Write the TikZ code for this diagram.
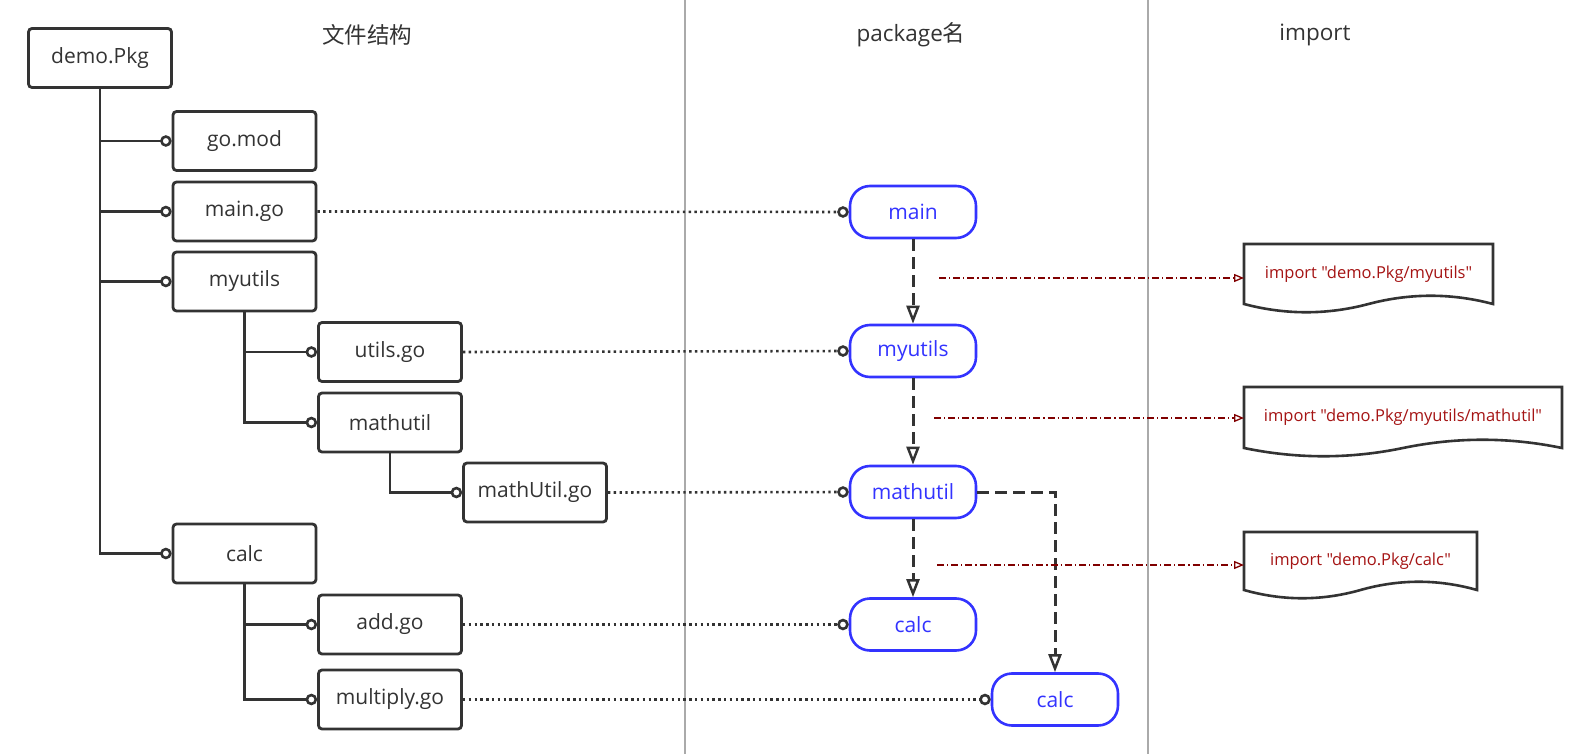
\documentclass[tikz,border=0pt]{standalone}
\usepackage{fontspec}
\setmainfont{Open Sans}
\newfontfamily\cjk{Noto Sans CJK SC}
\newfontfamily\docfont[Ligatures=ResetAll]{Open Sans}
\usetikzlibrary{arrows.meta}
\definecolor{ink}{RGB}{51,51,51}
\definecolor{pblue}{RGB}{51,51,255}
\definecolor{dred}{RGB}{128,0,0}
\definecolor{tred}{RGB}{165,20,20}
\definecolor{sepgray}{RGB}{170,170,170}
\newcommand\docwave[2]{%
  \draw[docline] (#1.south west) -- (#1.north west) -- (#1.north east) -- (#1.south east)
    .. controls ([xshift={-#2pt/6}, yshift=11pt]#1.south east) and ([xshift={-#2pt/3}, yshift=11pt]#1.south east)
    .. ([xshift={-#2pt/2}]#1.south east)
    .. controls ([xshift={-2*#2pt/3}, yshift=-11pt]#1.south east) and ([xshift={-5*#2pt/6}, yshift=-11pt]#1.south east)
    .. (#1.south west) -- cycle;}
\begin{document}
\begin{tikzpicture}[x=1pt,y=-1pt,
  filebox/.style={draw=ink, line width=2.8pt, rounded corners=3.5pt, minimum width=143pt,
    minimum height=59pt, font=\fontsize{21}{24}\selectfont, text=ink, inner sep=0pt},
  pkg/.style={draw=pblue, line width=2.6pt, rounded corners=20pt, minimum width=126pt,
    minimum height=52pt, font=\fontsize{21}{24}\selectfont, text=pblue, inner sep=0pt},
  header/.style={font=\fontsize{22.5}{26}\selectfont, text=ink, inner sep=0pt},
  docnode/.style={inner sep=0pt, outer sep=0pt, font=\docfont\fontsize{16.5}{19}\selectfont, text=tred},
  docline/.style={draw=ink, line width=2.6pt, fill=white},
  tree/.style={draw=ink, line width=2.6pt, -{Circle[open, length=8.5pt, width=8.5pt, line width=2.6pt, scale=1.35]}},
  dotlink/.style={draw=ink, line width=2.6pt, dash pattern=on 2.4pt off 3.4pt, -{Circle[open, length=8.5pt, width=8.5pt, line width=2.6pt, scale=1.35]}},
  deplink/.style={draw=ink, line width=3pt, dash pattern=on 12pt off 6pt, -{Triangle[open, length=18pt, width=13pt, line width=2.5pt]}},
  implink/.style={draw=dred, line width=1.1pt, dash pattern=on 7pt off 3pt on 1.2pt off 3pt, -{Triangle[open, length=10pt, width=8pt, line width=1.3pt]}},
  sepline/.style={draw=sepgray, line width=1.6pt}
]
\useasboundingbox (0,0) rectangle (1588,754);

% separators
\draw[sepline] (685,0) -- (685,754);
\draw[sepline] (1148,0) -- (1148,754);

% headers
\node[header] (h1) at (367,35) {\cjk 文件结构};
\node[header] (h2) at (911,35) {package{\cjk 名}};
\node[header] (h3) at (1315,35) {import};

% file tree
\node[filebox] (demo) at (100,58) {demo.Pkg};
\node[filebox] (gomod) at (244.5,141) {go.mod};
\node[filebox] (maingo) at (244.5,211.5) {main.go};
\node[filebox] (myutils) at (244.5,281.5) {myutils};
\node[filebox] (utilsgo) at (390,352) {utils.go};
\node[filebox] (mathutil) at (390,422.5) {mathutil};
\node[filebox] (mathutilgo) at (535,492.5) {mathUtil.go};
\node[filebox] (calc) at (244.5,553.5) {calc};
\node[filebox] (addgo) at (390,624.5) {add.go};
\node[filebox] (multgo) at (390,699.5) {multiply.go};

\draw[tree] (demo.south) |- (gomod.west);
\draw[tree] (demo.south) |- (maingo.west);
\draw[tree] (demo.south) |- (myutils.west);
\draw[tree] (demo.south) |- (calc.west);
\draw[tree] (myutils.south) |- (utilsgo.west);
\draw[tree] (myutils.south) |- (mathutil.west);
\draw[tree] (mathutil.south) |- (mathutilgo.west);
\draw[tree] (calc.south) |- (addgo.west);
\draw[tree] (calc.south) |- (multgo.west);

% packages
\node[pkg] (pmain) at (913,212) {main};
\node[pkg] (pmyutils) at (913,351) {myutils};
\node[pkg] (pmathutil) at (913,492) {mathutil};
\node[pkg] (pcalc) at (913,624.5) {calc};
\node[pkg] (pcalcb) at (1055,699.5) {calc};

\draw[dotlink] (maingo.east) -- (pmain.west);
\draw[dotlink] (utilsgo.east) -- (pmyutils.west);
\draw[dotlink] (mathutilgo.east) -- (pmathutil.west);
\draw[dotlink] (addgo.east) -- (pcalc.west);
\draw[dotlink] (multgo.east) -- (pcalcb.west);

\draw[deplink] (pmain.south) -- (pmyutils.north);
\draw[deplink] (pmyutils.south) -- (pmathutil.north);
\draw[deplink] (pmathutil.south) -- (pcalc.north);
\draw[deplink] (pmathutil.east) -| (pcalcb.north);

% import documents
\node[docnode, minimum width=249pt, minimum height=60pt] (d1) at (1368.5,274) {};
\node[docnode, minimum width=318pt, minimum height=61pt] (d2) at (1403,417.5) {};
\node[docnode, minimum width=233pt, minimum height=58pt] (d3) at (1360.5,561) {};
\docwave{d1}{249}
\docwave{d2}{318}
\docwave{d3}{233}
\node[docnode] (t1) at (d1) {import "demo.Pkg/myutils"};
\node[docnode] (t2) at (d2) {import "demo.Pkg/myutils/mathutil"};
\node[docnode] (t3) at (d3) {import "demo.Pkg/calc"};

\coordinate (a1) at (939,278);
\coordinate (a2) at (934,418);
\coordinate (a3) at (937,565);
\draw[implink] (a1) -- (a1 -| d1.west);
\draw[implink] (a2) -- (a2 -| d2.west);
\draw[implink] (a3) -- (a3 -| d3.west);
\end{tikzpicture}
\end{document}
